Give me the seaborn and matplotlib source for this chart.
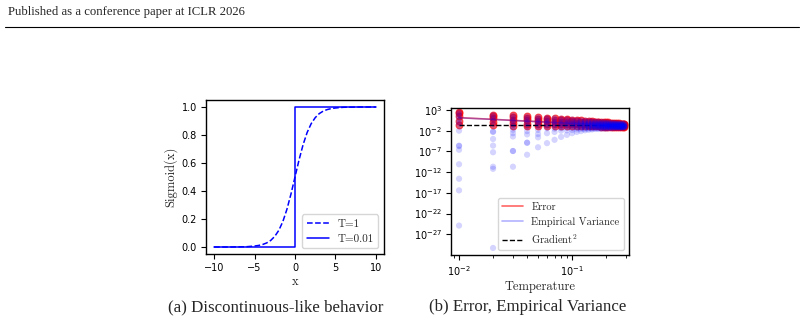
import numpy as np
import pandas as pd
import seaborn as sns
import matplotlib.pyplot as plt
from matplotlib.lines import Line2D
from matplotlib.ticker import FixedLocator, NullLocator

# (a) sigmoid with two temperatures
x_soft = [-10, -9, -8, -7, -6, -5, -4.5, -4, -3.5, -3, -2.5, -2, -1.5, -1, -0.5, 0,
          0.5, 1, 1.5, 2, 2.5, 3, 3.5, 4, 4.5, 5, 6, 7, 8, 9, 10]
y_soft = [0.000, 0.000, 0.000, 0.001, 0.002, 0.007, 0.011, 0.018, 0.029, 0.047, 0.076,
          0.119, 0.182, 0.269, 0.378, 0.500, 0.622, 0.731, 0.818, 0.881, 0.924, 0.953,
          0.971, 0.982, 0.989, 0.993, 0.998, 0.999, 1.000, 1.000, 1.000]
x_hard = [-10, 0, 0, 10]
y_hard = [0.0, 0.0, 1.0, 1.0]

# (b) error / empirical variance vs temperature (log10 values)
temps = [0.01, 0.02, 0.03, 0.04, 0.05, 0.06, 0.07, 0.08, 0.09, 0.10,
         0.11, 0.12, 0.13, 0.14, 0.15, 0.16, 0.17, 0.18, 0.19, 0.20,
         0.21, 0.22, 0.23, 0.24, 0.25, 0.26, 0.27, 0.28, 0.29]
err_line = [1.15, 0.74, 0.49, 0.32, 0.19, 0.08, -0.01, -0.09, -0.16, -0.23,
            -0.28, -0.33, -0.38, -0.43, -0.47, -0.51, -0.54, -0.58, -0.61, -0.64,
            -0.67, -0.70, -0.72, -0.75, -0.77, -0.80, -0.82, -0.84, -0.86]
var_line = [1.12, 0.72, 0.47, 0.30, 0.17, 0.06, -0.03, -0.11, -0.18, -0.25,
            -0.30, -0.35, -0.40, -0.45, -0.49, -0.53, -0.56, -0.60, -0.63, -0.66,
            -0.69, -0.72, -0.74, -0.77, -0.79, -0.82, -0.84, -0.86, -0.88]
err_pts = [
    [2.5, 2.2, 1.6, 0.3, -0.6], [1.9, 1.6, 1.0, 0.0, -0.7], [1.7, 1.3, 0.7, -0.2, -0.8],
    [1.5, 1.1, 0.5, -0.3, -0.8], [1.3, 0.9, 0.4, -0.3, -0.8], [1.1, 0.8, 0.3, -0.3, -0.8],
    [1.0, 0.7, 0.2, -0.4, -0.8], [0.9, 0.6, 0.1, -0.4, -0.8], [0.8, 0.5, 0.0, -0.4, -0.8],
    [0.7, 0.4, 0.0, -0.5, -0.8], [0.6, 0.3, -0.1, -0.5, -0.9], [0.5, 0.2, -0.1, -0.5, -0.9],
    [0.4, 0.2, -0.2, -0.5, -0.9], [0.4, 0.1, -0.2, -0.6, -0.9], [0.3, 0.1, -0.3, -0.6, -0.9],
    [0.2, 0.0, -0.3, -0.6, -0.9], [0.2, 0.0, -0.3, -0.6, -0.9], [0.1, -0.1, -0.4, -0.7, -1.0],
    [0.1, -0.1, -0.4, -0.7, -1.0], [0.0, -0.2, -0.4, -0.7, -1.0], [0.0, -0.2, -0.5, -0.7, -1.0],
    [-0.1, -0.3, -0.5, -0.7, -1.0], [-0.1, -0.3, -0.5, -0.8, -1.0], [-0.2, -0.3, -0.5, -0.8, -1.0],
    [-0.2, -0.4, -0.6, -0.8, -1.0], [-0.2, -0.4, -0.6, -0.8, -1.0], [-0.3, -0.4, -0.6, -0.8, -1.0],
    [-0.3, -0.5, -0.6, -0.8, -1.0], [-0.3, -0.5, -0.7, -0.8, -1.0],
]
var_pts = [
    [2.4, 2.0, 1.5, 0.8, 0.0, -0.5, -2.0, -5.6, -5.7, -6.6, -10.1, -13.6, -16.4, -24.9],
    [1.8, 1.4, 0.9, 0.3, -0.6, -2.2, -2.3, -4.0, -5.6, -7.2, -10.7, -11.2, -30.3],
    [1.6, 1.2, 0.6, 0.2, -0.5, -1.0, -1.8, -2.6, -3.4, -6.9, -6.9, -10.7],
    [1.4, 1.0, 0.5, 0.1, -0.4, -1.0, -2.1, -2.9, -4.9, -4.9, -7.8],
    [1.2, 0.9, 0.4, 0.0, -0.4, -0.8, -1.8, -2.8, -3.6, -6.0],
    [1.1, 0.8, 0.3, -0.1, -0.4, -0.8, -1.4, -2.6, -5.0],
    [1.0, 0.7, 0.2, -0.1, -0.5, -0.8, -1.5, -2.3, -4.2],
    [0.9, 0.6, 0.1, -0.2, -0.5, -0.8, -1.4, -2.0, -3.5],
    [0.8, 0.5, 0.0, -0.2, -0.5, -0.8, -1.3, -1.9, -3.0],
    [0.7, 0.4, 0.0, -0.3, -0.5, -0.8, -1.3, -1.8, -2.6],
    [0.6, 0.3, -0.1, -0.3, -0.6, -0.9, -1.3, -1.7, -2.3],
    [0.5, 0.2, -0.1, -0.4, -0.6, -0.9, -1.3, -1.6, -2.1],
    [0.4, 0.2, -0.2, -0.4, -0.6, -0.9, -1.3, -1.6, -1.9],
    [0.4, 0.1, -0.2, -0.5, -0.7, -0.9, -1.3, -1.5, -1.8],
    [0.3, 0.1, -0.3, -0.5, -0.7, -0.9, -1.3, -1.5, -1.7],
    [0.2, 0.0, -0.3, -0.5, -0.7, -0.9, -1.2, -1.4, -1.6],
    [0.2, 0.0, -0.3, -0.6, -0.7, -0.9, -1.2, -1.4, -1.6],
    [0.1, -0.1, -0.4, -0.6, -0.8, -1.0, -1.2, -1.4, -1.5],
    [0.1, -0.1, -0.4, -0.6, -0.8, -1.0, -1.2, -1.3, -1.5],
    [0.0, -0.2, -0.4, -0.6, -0.8, -1.0, -1.1, -1.3, -1.5],
    [0.0, -0.2, -0.5, -0.6, -0.8, -1.0, -1.1, -1.3, -1.4],
    [-0.1, -0.3, -0.5, -0.7, -0.8, -1.0, -1.1, -1.3, -1.4],
    [-0.1, -0.3, -0.5, -0.7, -0.8, -1.0, -1.1, -1.2, -1.4],
    [-0.2, -0.3, -0.5, -0.7, -0.8, -1.0, -1.1, -1.2, -1.3],
    [-0.2, -0.4, -0.6, -0.7, -0.9, -1.0, -1.1, -1.2, -1.3],
    [-0.2, -0.4, -0.6, -0.7, -0.9, -1.0, -1.1, -1.2, -1.3],
    [-0.3, -0.4, -0.6, -0.7, -0.9, -1.0, -1.1, -1.2, -1.3],
    [-0.3, -0.5, -0.6, -0.8, -0.9, -1.0, -1.1, -1.2, -1.2],
    [-0.3, -0.5, -0.7, -0.8, -0.9, -1.0, -1.1, -1.1, -1.2],
]
grad_sq = 0.23
y_ticks = [1e3, 1e-2, 1e-7, 1e-12, 1e-17, 1e-22, 1e-27]

sns.set_theme(style="ticks")
plt.rcParams["font.family"] = ["DejaVu Sans"]
plt.rcParams["mathtext.fontset"] = "cm"
plt.rcParams["axes.edgecolor"] = "black"
plt.rcParams["xtick.color"] = "black"
plt.rcParams["ytick.color"] = "black"
plt.rcParams["axes.linewidth"] = 1.0
serif = "cmr10"

fig = plt.figure(figsize=(8.04, 3.24), dpi=100)

# page header
fig.text(8 / 804, 1 - 12 / 324, "Published as a conference paper at ICLR 2026",
         fontsize=9.2, family="Liberation Serif", va="center", ha="left")
fig.add_artist(Line2D([5 / 804, 799 / 804], [1 - 27 / 324, 1 - 27 / 324],
                      color="black", lw=0.8))

# (a)
ax1 = fig.add_axes([206 / 804, 1 - 254 / 324, 178 / 804, 154 / 324])
soft = pd.DataFrame({"x": x_soft, "y": y_soft})
hard = pd.DataFrame({"x": x_hard, "y": y_hard})
sns.lineplot(data=soft, x="x", y="y", ax=ax1, color="blue", lw=1.1,
             linestyle="--", label="T=1", estimator=None, sort=False)
sns.lineplot(data=hard, x="x", y="y", ax=ax1, color="blue", lw=1.1,
             label="T=0.01", estimator=None, sort=False)
ax1.set_xticks([-10, -5, 0, 5, 10])
ax1.set_yticks([0.0, 0.2, 0.4, 0.6, 0.8, 1.0])
ax1.tick_params(labelsize=7, length=3.5, width=0.8, pad=3)
ax1.set_xlabel("x", family=serif, fontsize=9, labelpad=2)
ax1.set_ylabel("Sigmoid(x)", family=serif, fontsize=9, labelpad=3)
ax1.legend(loc="lower right", prop={"family": serif, "size": 8},
           handlelength=2.0, borderpad=0.4, labelspacing=0.5)

# (b)
ax2 = fig.add_axes([451 / 804, 1 - 255 / 324, 178 / 804, 147.5 / 324])
err_df = pd.DataFrame({"T": [t for t, v in zip(temps, err_pts) for _ in v],
                       "val": [10.0 ** e for v in err_pts for e in v]})
var_df = pd.DataFrame({"T": [t for t, v in zip(temps, var_pts) for _ in v],
                       "val": [10.0 ** e for v in var_pts for e in v]})
line_df = pd.DataFrame({"T": temps,
                        "err": [10.0 ** e for e in err_line],
                        "var": [10.0 ** e for e in var_line]})

sns.scatterplot(data=err_df, x="T", y="val", ax=ax2, color="red", alpha=0.6,
                s=24, edgecolor="red", linewidth=0.8, zorder=2)
sns.lineplot(data=line_df, x="T", y="err", ax=ax2, color="red", alpha=0.6,
             lw=1.2, label="Error", zorder=3)
sns.scatterplot(data=var_df, x="T", y="val", ax=ax2, color="blue", alpha=0.17,
                s=20, edgecolor="none", zorder=4)
sns.lineplot(data=line_df, x="T", y="var", ax=ax2, color="blue", alpha=0.3,
             lw=1.2, label="Empirical Variance", zorder=5)
ax2.plot([temps[0], temps[-1]], [grad_sq, grad_sq], color="black", ls="--",
         lw=1.0, label="Gradient$^2$", zorder=3)
ax2.set_xscale("log")
ax2.set_yscale("log")
ax2.set_xlim(0.00849, 0.319)
ax2.set_ylim(1e-32, 10 ** 3.6)
ax2.yaxis.set_major_locator(FixedLocator(y_ticks))
ax2.yaxis.set_minor_locator(NullLocator())
ax2.tick_params(labelsize=7, length=3.5, width=0.8, pad=3)
ax2.tick_params(which="minor", length=2, width=0.6)
ax2.set_xlabel("Temperature", family=serif, fontsize=9, labelpad=2)
ax2.set_ylabel("")
ax2.legend(loc="lower right", prop={"family": serif, "size": 7.5},
           handlelength=2.0, borderpad=0.4, labelspacing=0.5)

# captions
fig.text(276 / 804, 1 - 307 / 324, "(a) Discontinuous-like behavior",
         fontsize=12.2, family="Liberation Serif", ha="center", va="center")
fig.text(528 / 804, 1 - 307 / 324, "(b) Error, Empirical Variance",
         fontsize=12.2, family="Liberation Serif", ha="center", va="center")

fig.savefig("out.png", dpi=100)
